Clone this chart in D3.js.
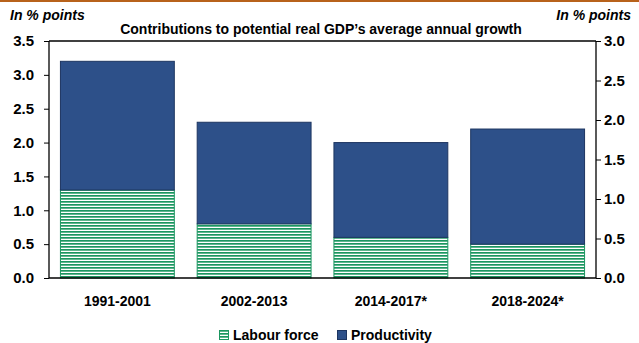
<!DOCTYPE html>
<html>
<head>
<meta charset="utf-8">
<script src="https://cdn.jsdelivr.net/npm/d3@7"></script>
<style>
  body { margin: 0; background: #fff; }
  svg text { font-family: "Liberation Sans", Arial, sans-serif; font-weight: bold; fill: #000; }
</style>
</head>
<body>
<svg id="chart" width="639" height="343"></svg>
<script>
const periods = ['1991-2001', '2002-2013', '2014-2017*', '2018-2024*'];
const labourForce = [1.3, 0.8, 0.6, 0.5];
const productivity = [1.9, 1.5, 1.4, 1.7];
const leftTicks = [0, 0.5, 1.0, 1.5, 2.0, 2.5, 3.0, 3.5];
const rightTicks = [0, 0.5, 1.0, 1.5, 2.0, 2.5, 3.0];

const svg = d3.select('#chart');
const margin = { left: 49, right: 596, top: 41, bottom: 278 };

// pattern for labour force
const defs = svg.append('defs');
const pat = defs.append('pattern')
    .attr('id', 'stripes')
    .attr('patternUnits', 'userSpaceOnUse')
    .attr('width', 8)
    .attr('height', 3);
pat.append('rect').attr('width', 8).attr('height', 3).attr('fill', '#ffffff');
pat.append('rect').attr('width', 8).attr('height', 1.7).attr('fill', '#1b9660');

// orange top rule
svg.append('rect').attr('x', 0).attr('y', 0).attr('width', 639).attr('height', 2).attr('fill', '#b8621b');

const x = d3.scaleBand().domain(periods).range([margin.left, margin.right]).paddingInner(0.16).paddingOuter(0.08);
const yL = d3.scaleLinear().domain([0, 3.5]).range([margin.bottom, margin.top]);
const yR = d3.scaleLinear().domain([0, 3.0]).range([margin.bottom, margin.top]);

const stackData = periods.map((p, i) => ({ period: p, labour: labourForce[i], prod: productivity[i] }));
const series = d3.stack().keys(['labour', 'prod'])(stackData);

const fills = { labour: 'url(#stripes)', prod: '#2d5089' };
const strokes = { labour: '#1b9660', prod: '#1d3561' };

svg.append('g').selectAll('g')
    .data(series)
    .enter().append('g')
    .each(function (s) {
        d3.select(this).selectAll('rect')
            .data(s)
            .enter().append('rect')
            .attr('x', d => x(d.data.period) + 0.5)
            .attr('width', x.bandwidth() - 1)
            .attr('y', d => yL(d[1]))
            .attr('height', d => yL(d[0]) - yL(d[1]))
            .attr('fill', fills[s.key])
            .attr('stroke', strokes[s.key])
            .attr('stroke-width', 1);
    });

// axes
const leftAxis = d3.axisLeft(yL).tickValues(leftTicks).tickFormat(d3.format('.1f')).tickSize(5).tickPadding(10);
const rightAxis = d3.axisRight(yR).tickValues(rightTicks).tickFormat(d3.format('.1f')).tickSize(5).tickPadding(3);

const gl = svg.append('g').attr('transform', `translate(${margin.left},0)`).call(leftAxis);
const gr = svg.append('g').attr('transform', `translate(${margin.right},0)`).call(rightAxis);
[gl, gr].forEach(g => {
    g.attr('font-family', null).attr('font-size', null);
    g.select('.domain').remove();
    g.selectAll('line').attr('stroke', '#000');
    g.selectAll('text').style('font-size', '15px');
});

// frame lines
svg.append('line').attr('x1', margin.left).attr('x2', margin.left).attr('y1', margin.top).attr('y2', margin.bottom).attr('stroke', '#000').attr('stroke-width', 1.3);
svg.append('line').attr('x1', margin.right).attr('x2', margin.right).attr('y1', margin.top).attr('y2', margin.bottom).attr('stroke', '#000').attr('stroke-width', 1.3);
svg.append('line').attr('x1', margin.left).attr('x2', margin.right).attr('y1', margin.top).attr('y2', margin.top).attr('stroke', '#000').attr('stroke-width', 1.3);
svg.append('line').attr('x1', margin.left).attr('x2', margin.right).attr('y1', margin.bottom).attr('y2', margin.bottom).attr('stroke', '#000').attr('stroke-width', 1.5);

// category labels
svg.append('g').selectAll('text')
    .data(periods)
    .enter().append('text')
    .attr('x', d => x(d) + x.bandwidth() / 2)
    .attr('y', 306)
    .attr('text-anchor', 'middle')
    .style('font-size', '14px')
    .text(d => d);

// unit labels and title
svg.append('text').attr('x', 10).attr('y', 20).style('font-size', '14px').style('font-style', 'italic').text('In % points');
svg.append('text').attr('x', 631).attr('y', 20).style('font-size', '14px').style('font-style', 'italic').attr('text-anchor', 'end').text('In % points');
svg.append('text').attr('x', 321).attr('y', 34).style('font-size', '14px').attr('text-anchor', 'middle').text('Contributions to potential real GDP\u2019s average annual growth');

// legend
const legend = [
    { name: 'Labour force', fill: 'url(#stripes)', stroke: '#1b9660', x: 219 },
    { name: 'Productivity', fill: '#2d5089', stroke: '#1d3561', x: 337 }
];
const lg = svg.append('g').selectAll('g').data(legend).enter().append('g');
lg.append('rect').attr('x', d => d.x + 0.5).attr('y', 330.5).attr('width', 9).attr('height', 9)
    .attr('fill', d => d.fill).attr('stroke', d => d.stroke);
lg.append('text').attr('x', d => d.x + 14).attr('y', 340).style('font-size', '14px').text(d => d.name);
</script>
</body>
</html>
